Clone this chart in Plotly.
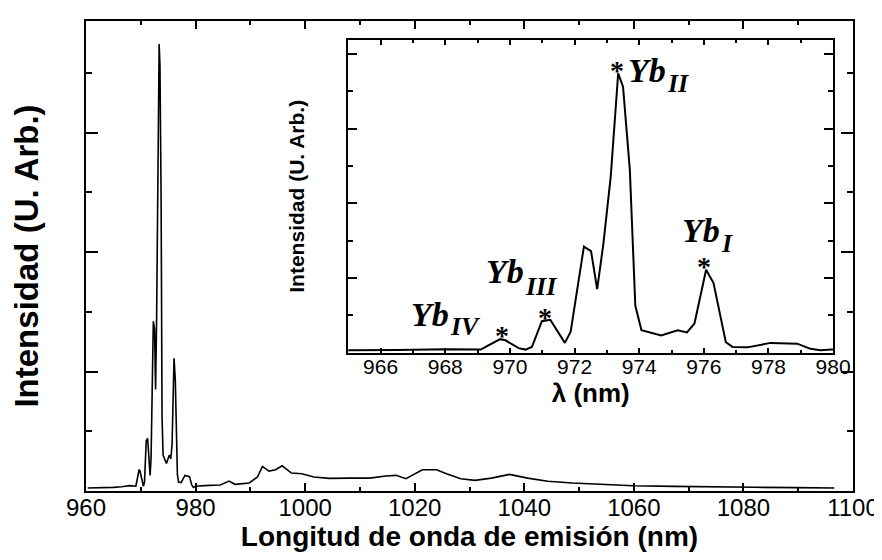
import plotly.graph_objects as go

# Emission spectrum (arbitrary units; 1 unit = one major y tick)
wavelength_nm = [960.3, 962.0, 964.0, 965.0, 966.5, 968.0, 969.1, 969.25, 969.7, 969.86,
                 970.27, 970.48, 970.68, 970.99, 971.25, 971.7, 971.88, 972.29, 972.51, 972.7,
                 972.89, 973.12, 973.35, 973.5, 973.71, 973.88, 974.07, 974.68, 975.19, 975.48,
                 975.71, 976.07, 976.3, 976.68, 976.89, 977.35, 978.07, 978.89, 979.3, 979.6,
                 979.96, 982.4, 984.5, 986.1, 987.2, 989.8, 991.3, 992.2, 993.4, 994.6,
                 995.8, 997.5, 999.4, 1001.6, 1004.4, 1008.1, 1011.8, 1014.7, 1016.6, 1018.4,
                 1019.9, 1021.4, 1024.0, 1025.8, 1028.4, 1031.0, 1034.0, 1037.3, 1040.6, 1044.3,
                 1048.8, 1054.7, 1059.9, 1067.3, 1074.7, 1082.1, 1089.5, 1096.6]
intensity = [0.025, 0.026, 0.028, 0.03, 0.035, 0.045, 0.04, 0.075, 0.18, 0.165,
             0.06, 0.04, 0.075, 0.42, 0.44, 0.13, 0.28, 1.42, 1.36, 0.85,
             1.45, 2.36, 3.74, 3.56, 2.45, 0.63, 0.30, 0.23, 0.30, 0.27,
             0.39, 1.11, 0.93, 0.14, 0.075, 0.07, 0.13, 0.12, 0.05, 0.03,
             0.04, 0.047, 0.05, 0.083, 0.056, 0.067, 0.117, 0.206, 0.167, 0.178,
             0.211, 0.15, 0.144, 0.117, 0.106, 0.108, 0.108, 0.125, 0.131, 0.103,
             0.139, 0.178, 0.178, 0.144, 0.103, 0.089, 0.108, 0.139, 0.108, 0.081,
             0.067, 0.053, 0.044, 0.039, 0.033, 0.031, 0.028, 0.025]

main_ticks = [960, 980, 1000, 1020, 1040, 1060, 1080, 1100]
inset_ticks = [966, 968, 970, 972, 974, 976, 978, 980]

# Peak labels in the inset: "Yb" + subscript numeral, and an asterisk on each peak
label_text = ["Yb", "Yb", "Yb", "Yb"]
label_x = [973.615, 975.28, 969.23, 966.90]
label_y = [4.035, 1.901, 1.347, 0.768]
sub_text = ["II", "I", "III", "IV"]
sub_y = [3.807, 1.673, 1.096, 0.563]
star_x = [973.30, 976.02, 971.09, 969.76]
star_y = [4.0, 1.38, 0.692, 0.447]

SANS = "Liberation Sans, Arial, sans-serif"
SERIF = "Liberation Serif, Times New Roman, serif"
YB_SIZE, SUB_SIZE = 34, 26
YB_WIDTH = (0.611 + 0.5) * YB_SIZE  # advance width of bold-italic "Yb"

fig = go.Figure()
fig.add_trace(go.Scatter(x=wavelength_nm, y=intensity, mode="lines",
                         line=dict(color="black", width=1.6), showlegend=False,
                         xaxis="x", yaxis="y"))
fig.add_trace(go.Scatter(x=wavelength_nm, y=intensity, mode="lines",
                         line=dict(color="black", width=2), showlegend=False,
                         xaxis="x2", yaxis="y2"))

W, H = 882, 560
L, R, T, B = 78, 32, 11, 77
pw, ph = W - L - R, H - T - B

def px_x(p):
    return (p - L) / pw

def px_y(p):
    return (H - B - p) / ph

axis_common = dict(showline=True, linecolor="black", linewidth=2, mirror="allticks",
                   ticks="inside", tickcolor="black", showgrid=False, zeroline=False)

def bold(size):
    return dict(size=size, family=SANS, weight="bold", color="black")

fig.update_layout(
    width=W, height=H,
    margin=dict(l=L, r=R, t=T, b=B),
    paper_bgcolor="white", plot_bgcolor="white",
    font=dict(family=SANS, color="black"),
    xaxis=dict(**axis_common, range=[960, 1100], tickvals=main_ticks, ticklen=8, tickwidth=2,
               minor=dict(dtick=10, tick0=960, ticklen=4, tickwidth=2, ticks="inside", tickcolor="black"),
               tickfont=dict(size=24, family=SANS), ticklabelstandoff=-6,
               title=dict(text="Longitud de onda de emisión (nm)", font=bold(28), standoff=0)),
    yaxis=dict(**axis_common, range=[0, 3.933], dtick=1, tick0=0, ticklen=12, tickwidth=2,
               showticklabels=False,
               minor=dict(dtick=0.5, tick0=0, ticklen=6, tickwidth=2, ticks="inside", tickcolor="black"),
               title=dict(text="Intensidad (U. Arb.)", font=bold(33), standoff=35)),
    xaxis2=dict(**axis_common, domain=[px_x(342), px_x(830)], anchor="y2", range=[965, 980],
                tickvals=inset_ticks, ticklen=5, tickwidth=1.5,
                minor=dict(dtick=1, tick0=965, ticklen=3, tickwidth=1.5, ticks="inside", tickcolor="black"),
                tickfont=dict(size=21, family=SANS), ticklabelstandoff=-6,
                title=dict(text="λ (nm)", font=bold(26), standoff=7)),
    yaxis2=dict(**axis_common, domain=[px_y(344), px_y(30)], anchor="x2", range=[0, 4.187],
                dtick=1, tick0=0, ticklen=9, tickwidth=1.5, showticklabels=False,
                minor=dict(dtick=0.5, tick0=0, ticklen=5, tickwidth=1.5, ticks="inside", tickcolor="black"),
                title=dict(text="Intensidad (U. Arb.)", font=bold(21), standoff=36)),
)

annotations = []
for t, x, y in zip(label_text, label_x, label_y):
    annotations.append(dict(text=t, x=x, y=y, xref="x2", yref="y2", xanchor="left", yanchor="top",
                            showarrow=False, borderpad=0,
                            font=dict(size=YB_SIZE, family=SERIF, weight="bold", style="italic",
                                      color="black")))
for t, x, y in zip(sub_text, label_x, sub_y):
    annotations.append(dict(text=t, x=x, y=y, xref="x2", yref="y2", xanchor="left", yanchor="top",
                            xshift=YB_WIDTH + 1.5, showarrow=False, borderpad=0,
                            font=dict(size=SUB_SIZE, family=SERIF, weight="bold", style="italic",
                                      color="black")))
for x, y in zip(star_x, star_y):
    annotations.append(dict(text="*", x=x, y=y, xref="x2", yref="y2", xanchor="center", yanchor="top",
                            showarrow=False, borderpad=0,
                            font=dict(size=28, family=SERIF, weight="bold", color="black")))
fig.update_layout(annotations=annotations)

fig.write_html("out.html")
